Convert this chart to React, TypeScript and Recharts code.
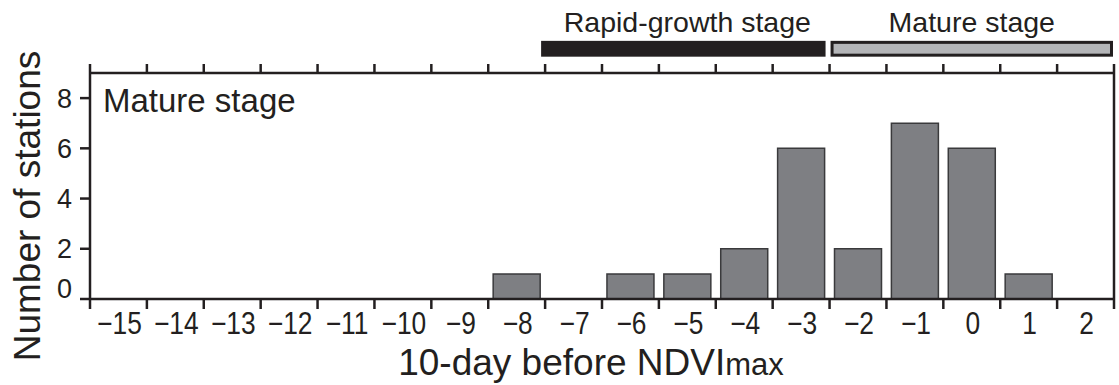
import { Bar, BarChart, ReferenceArea, XAxis, YAxis } from "recharts";

const days = [-15, -14, -13, -12, -11, -10, -9, -8, -7, -6, -5, -4, -3, -2, -1, 0, 1, 2];
const stations = [0, 0, 0, 0, 0, 0, 0, 1, 0, 1, 1, 2, 6, 2, 7, 6, 1, 0];
const yTicks = [0, 2, 4, 6, 8];
const stageNames = ["Rapid-growth stage", "Mature stage"];
const stageFrom = [-7, -2];
const stageTo = [-3, 2];
const panelTitle = "Mature stage";

const data = days.map((d, i) => ({ day: d, n: stations[i] }));

const INK = "#231f20";
const FONT = "'Liberation Sans', Arial, Helvetica, sans-serif";
const W = 1119;
const H = 385;

const fmtDay = (v: number) => (v < 0 ? "\u2212" + Math.abs(v) : String(v));

function bandHalf(props: any) {
  const off = props.payload?.offset;
  if (typeof off === "number" && off > 0) return off;
  return props.width / props.visibleTicksCount / 2;
}

function BottomTick(props: any) {
  const { x, y, payload, index, visibleTicksCount } = props;
  const half = bandHalf(props);
  const last = index === visibleTicksCount - 1;
  return (
    <g>
      <line x1={x - half} x2={x - half} y1={y} y2={y + 10} stroke={INK} strokeWidth={2.5} />
      {last ? (
        <line x1={x + half} x2={x + half} y1={y} y2={y + 10} stroke={INK} strokeWidth={2.5} />
      ) : null}
      <text
        transform={`translate(${x + 1},${y + 35}) scale(0.85,1)`}
        textAnchor="middle"
        fontSize={31}
        fontFamily={FONT}
        fill={INK}
      >
        {fmtDay(payload.value)}
      </text>
    </g>
  );
}

function TopTick(props: any) {
  const { x, y, index, visibleTicksCount } = props;
  const half = bandHalf(props);
  const last = index === visibleTicksCount - 1;
  return (
    <g>
      <line x1={x - half} x2={x - half} y1={y} y2={y - 9} stroke={INK} strokeWidth={2.5} />
      {last ? (
        <line x1={x + half} x2={x + half} y1={y} y2={y - 9} stroke={INK} strokeWidth={2.5} />
      ) : null}
    </g>
  );
}

function LeftTick(props: any) {
  const { x, y, payload } = props;
  return (
    <text
      x={x}
      y={y + (payload.value === 0 ? -11 : 0)}
      dy="0.36em"
      textAnchor="end"
      fontSize={27}
      fontFamily={FONT}
      fill={INK}
    >
      {payload.value}
    </text>
  );
}

function XTitle(props: any) {
  const vb = props.viewBox;
  return (
    <text
      x={vb.x + vb.width / 2 - 11}
      y={vb.y + 76}
      textAnchor="middle"
      fontSize={37}
      fontFamily={FONT}
      fill={INK}
    >
      10-day before NDVI
      <tspan fontSize={31}>max</tspan>
    </text>
  );
}

function YTitle(props: any) {
  const vb = props.viewBox;
  const cx = vb.x + 40;
  const cy = vb.y + vb.height / 2 + 20;
  return (
    <text
      x={cx}
      y={cy}
      transform={`rotate(-90, ${cx}, ${cy})`}
      textAnchor="middle"
      fontSize={37}
      fontFamily={FONT}
      fill={INK}
    >
      Number of stations
    </text>
  );
}

const stageStyle = [
  { fill: INK, stroke: "none", strokeWidth: 0, shiftL: -4, shiftR: -4 },
  { fill: "#b4b5b8", stroke: INK, strokeWidth: 3, shiftL: 2.5, shiftR: -2.5 },
];

function stageShape(i: number) {
  return (p: any) => {
    const s = stageStyle[i];
    const x = p.x + s.shiftL;
    const w = p.width - s.shiftL + s.shiftR;
    return (
      <rect
        x={x}
        y={p.y + s.strokeWidth / 2}
        width={w}
        height={p.height - s.strokeWidth}
        fill={s.fill}
        stroke={s.stroke}
        strokeWidth={s.strokeWidth}
      />
    );
  };
}

export default function App() {
  return (
    <div style={{ position: "absolute", left: 0, top: 0, width: W, height: H, background: "#fff", fontFamily: FONT }}>
      <BarChart
        width={W}
        height={H}
        data={data}
        margin={{ top: 0, right: 0, bottom: 0, left: 0 }}
        barCategoryGap="8.7%"
      >
        <XAxis
          xAxisId="top"
          orientation="top"
          dataKey="day"
          type="category"
          height={73}
          interval={0}
          tickLine={false}
          tickSize={0}
          tickMargin={0}
          axisLine={{ stroke: INK, strokeWidth: 2.5 }}
          tick={<TopTick />}
        />
        <XAxis
          xAxisId="bottom"
          dataKey="day"
          type="category"
          height={86}
          interval={0}
          tickLine={false}
          tickSize={0}
          tickMargin={0}
          axisLine={{ stroke: INK, strokeWidth: 2.5 }}
          tick={<BottomTick />}
          label={{ value: "10-day before NDVImax", content: XTitle }}
        />
        <YAxis
          yAxisId="left"
          width={90}
          domain={[0, 9]}
          ticks={yTicks}
          allowDataOverflow
          tickSize={10}
          tickMargin={8}
          tickLine={{ stroke: INK, strokeWidth: 2.5 }}
          axisLine={{ stroke: INK, strokeWidth: 2.5 }}
          tick={<LeftTick />}
          label={{ value: "Number of stations", content: YTitle }}
        />
        <YAxis
          yAxisId="right"
          orientation="right"
          width={5}
          domain={[0, 9]}
          ticks={yTicks}
          allowDataOverflow
          tickSize={5}
          tick={false}
          tickLine={{ stroke: INK, strokeWidth: 2.5 }}
          axisLine={{ stroke: INK, strokeWidth: 2.5 }}
        />
        <Bar
          xAxisId="bottom"
          yAxisId="left"
          dataKey="n"
          fill="#7e7f83"
          stroke="#3a3a3c"
          strokeWidth={1.5}
          isAnimationActive={false}
        />
        {stageNames.map((name, i) => (
          <ReferenceArea
            key={name}
            xAxisId="bottom"
            yAxisId="left"
            x1={stageFrom[i]}
            x2={stageTo[i]}
            y1={9.65}
            y2={10.28}
            ifOverflow="visible"
            shape={stageShape(i)}
            label={{
              value: name,
              position: "top",
              offset: 9,
              fill: INK,
              fontSize: 28.5,
              fontFamily: FONT,
            }}
          />
        ))}
      </BarChart>
      <svg width={W} height={H} style={{ position: "absolute", left: 0, top: 0, pointerEvents: "none" }}>
        <text x={103} y={111.5} fontSize={33} fontFamily={FONT} fill={INK}>
          {panelTitle}
        </text>
      </svg>
    </div>
  );
}
